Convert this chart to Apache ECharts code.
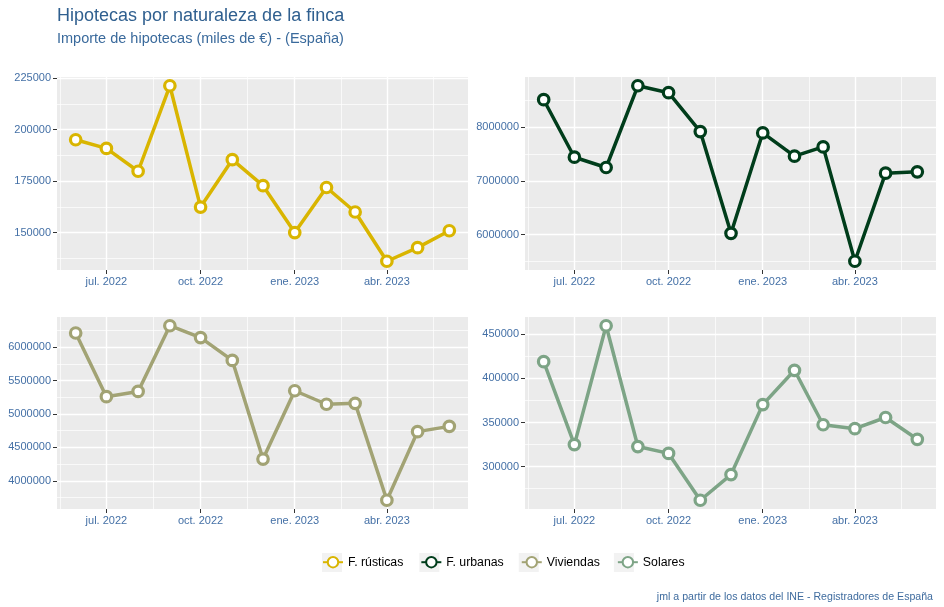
<!DOCTYPE html>
<html>
<head>
<meta charset="utf-8">
<script src="https://cdn.jsdelivr.net/npm/echarts@6/dist/echarts.min.js"></script>
<style>
html,body{margin:0;padding:0;background:#fff;}
#chart{width:944px;height:607px;}
</style>
</head>
<body>
<div id="chart"></div>
<script>
// ---- data ----
const months = ['2022-06','2022-07','2022-08','2022-09','2022-10','2022-11','2022-12','2023-01','2023-02','2023-03','2023-04','2023-05','2023-06'];
const seriesNames = ['F. rústicas','F. urbanas','Viviendas','Solares'];
const rusticas  = [195100, 190900, 179800, 221300, 162400, 185400, 172800, 150000, 171900, 160000, 136100, 142700, 150900];
const urbanas   = [8506000, 7438000, 7247000, 8765000, 8636000, 7914000, 6025000, 7889000, 7457000, 7630000, 5506000, 7142000, 7167000];
const viviendas = [6212000, 5259000, 5338000, 6321000, 6143000, 5802000, 4326000, 5348000, 5146000, 5160000, 3709000, 4736000, 4815000];
const solares   = [419000, 325000, 459700, 322800, 315000, 261900, 291000, 370300, 409200, 347500, 343000, 355700, 331000];
const xTickDates  = ['2022-07-01','2022-10-01','2023-01-01','2023-04-01'];
const xTickLabels = ['jul. 2022','oct. 2022','ene. 2023','abr. 2023'];
const yTicksRusticas  = [150000, 175000, 200000, 225000];
const yTicksUrbanas   = [6000000, 7000000, 8000000];
const yTicksViviendas = [4000000, 4500000, 5000000, 5500000, 6000000];
const yTicksSolares   = [300000, 350000, 400000, 450000];
const titleText = 'Hipotecas por naturaleza de la finca';
const subtitleText = 'Importe de hipotecas (miles de €) - (España)';
const captionText = 'jml a partir de los datos del INE - Registradores de España';

// ---- styling / layout ----
const colors = ['#D9B500', '#003D1B', '#A2A374', '#7DA486'];
const grids = [
  {left: 57,  top: 77,  width: 411, height: 193},
  {left: 525, top: 77,  width: 411, height: 193},
  {left: 57,  top: 317, width: 411, height: 192},
  {left: 525, top: 317, width: 411, height: 192}
];
const labelColor = '#4470A6';
const font = 'Liberation Sans, Arial, sans-serif';

function ts(s) {
  const p = s.split('-').map(Number);
  return Date.UTC(p[0], p[1] - 1, p[2] || 1);
}
function addMonths(t, n) { const d = new Date(t); return Date.UTC(d.getUTCFullYear(), d.getUTCMonth() + n, d.getUTCDate()); }

const xs = months.map(ts);
const xSpan = xs[xs.length - 1] - xs[0];
const xMin = xs[0] - 0.05 * xSpan, xMax = xs[xs.length - 1] + 0.05 * xSpan;
const xMajor = xTickDates.map(ts);
const xExt = [addMonths(xMajor[0], -3)].concat(xMajor, [addMonths(xMajor[xMajor.length - 1], 3)]);
const xMinor = [];
for (let i = 1; i < xExt.length; i++) {
  const m = (xExt[i - 1] + xExt[i]) / 2;
  if (m > xMin && m < xMax) xMinor.push(m);
}

const allValues = [rusticas, urbanas, viviendas, solares];
const allTicks = [yTicksRusticas, yTicksUrbanas, yTicksViviendas, yTicksSolares];

const xAxes = [], yAxes = [], series = [];
allValues.forEach((vals, i) => {
  const lo = Math.min.apply(null, vals), hi = Math.max.apply(null, vals);
  const yMin = lo - 0.05 * (hi - lo), yMax = hi + 0.05 * (hi - lo);
  const major = allTicks[i];
  const step = major[1] - major[0];
  const yMinor = [];
  for (let v = major[0] - step / 2; v < yMax; v += step) if (v > yMin) yMinor.push(v);

  xAxes.push({
    type: 'value', gridIndex: i, min: xMin, max: xMax,
    axisLine: {show: false},
    axisTick: {show: true, length: 4, lineStyle: {color: '#333333', width: 1}, customValues: xMajor},
    axisLabel: {customValues: xMajor, color: labelColor, fontSize: 11, margin: 6, fontFamily: font,
      formatter: v => { const k = xMajor.indexOf(v); return k >= 0 ? xTickLabels[k] : ''; }},
    splitLine: {show: true, lineStyle: {color: '#FFFFFF', width: 1.4}}
  });
  xAxes.push({
    type: 'value', gridIndex: i, min: xMin, max: xMax, position: 'top',
    axisLine: {show: false},
    axisTick: {show: false, customValues: xMinor},
    axisLabel: {show: false, customValues: xMinor},
    splitLine: {show: true, lineStyle: {color: '#FFFFFF', width: 0.7}}
  });
  yAxes.push({
    type: 'value', gridIndex: i, min: yMin, max: yMax,
    axisLine: {show: false},
    axisTick: {show: true, length: 4, lineStyle: {color: '#333333', width: 1}, customValues: major},
    axisLabel: {customValues: major, color: labelColor, fontSize: 11, margin: 6, fontFamily: font,
      formatter: v => String(v)},
    splitLine: {show: true, lineStyle: {color: '#FFFFFF', width: 1.4}}
  });
  yAxes.push({
    type: 'value', gridIndex: i, min: yMin, max: yMax, position: 'right',
    axisLine: {show: false},
    axisTick: {show: false, customValues: yMinor},
    axisLabel: {show: false, customValues: yMinor},
    splitLine: {show: true, lineStyle: {color: '#FFFFFF', width: 0.7}}
  });
  series.push({
    name: seriesNames[i], type: 'line', xAxisIndex: 2 * i, yAxisIndex: 2 * i,
    data: xs.map((x, j) => [x, vals[j]]),
    symbol: 'circle', symbolSize: 10.5, showSymbol: true,
    lineStyle: {width: 3.5, color: colors[i]},
    itemStyle: {color: '#FFFFFF', borderColor: colors[i], borderWidth: 3.2},
    emphasis: {disabled: true}
  });
});

const chart = echarts.init(document.getElementById('chart'), null, {renderer: 'canvas'});
chart.setOption({
  animation: false,
  textStyle: {fontFamily: font},
  title: [
    {text: titleText, subtext: subtitleText, left: 52, top: 2, itemGap: 6,
     textStyle: {fontSize: 18, fontWeight: 'normal', color: '#2F5F8F', fontFamily: font},
     subtextStyle: {fontSize: 14.5, color: '#3A6A9C', fontFamily: font}},
    {text: captionText, right: 6, top: 587,
     textStyle: {fontSize: 10.6, fontWeight: 'normal', color: '#3E6B9E', fontFamily: font}}
  ],
  legend: [
    {
      data: seriesNames, left: 317, top: 548, itemWidth: 20, itemHeight: 19, itemGap: 17, z: 1,
      icon: 'rect', selectedMode: false,
      itemStyle: {color: '#F2F2F2', borderWidth: 0},
      textStyle: {fontSize: 12.3, color: 'rgba(0,0,0,0)', fontFamily: font}
    },
    {
      data: seriesNames, left: 317, top: 551, itemWidth: 20, itemHeight: 13, itemGap: 17, z: 2,
      textStyle: {fontSize: 12.3, color: '#000000', fontFamily: font}
    }
  ],
  grid: grids.map(g => Object.assign({show: true, backgroundColor: '#EBEBEB', borderWidth: 0}, g)),
  xAxis: xAxes,
  yAxis: yAxes,
  series: series
});
</script>
</body>
</html>
